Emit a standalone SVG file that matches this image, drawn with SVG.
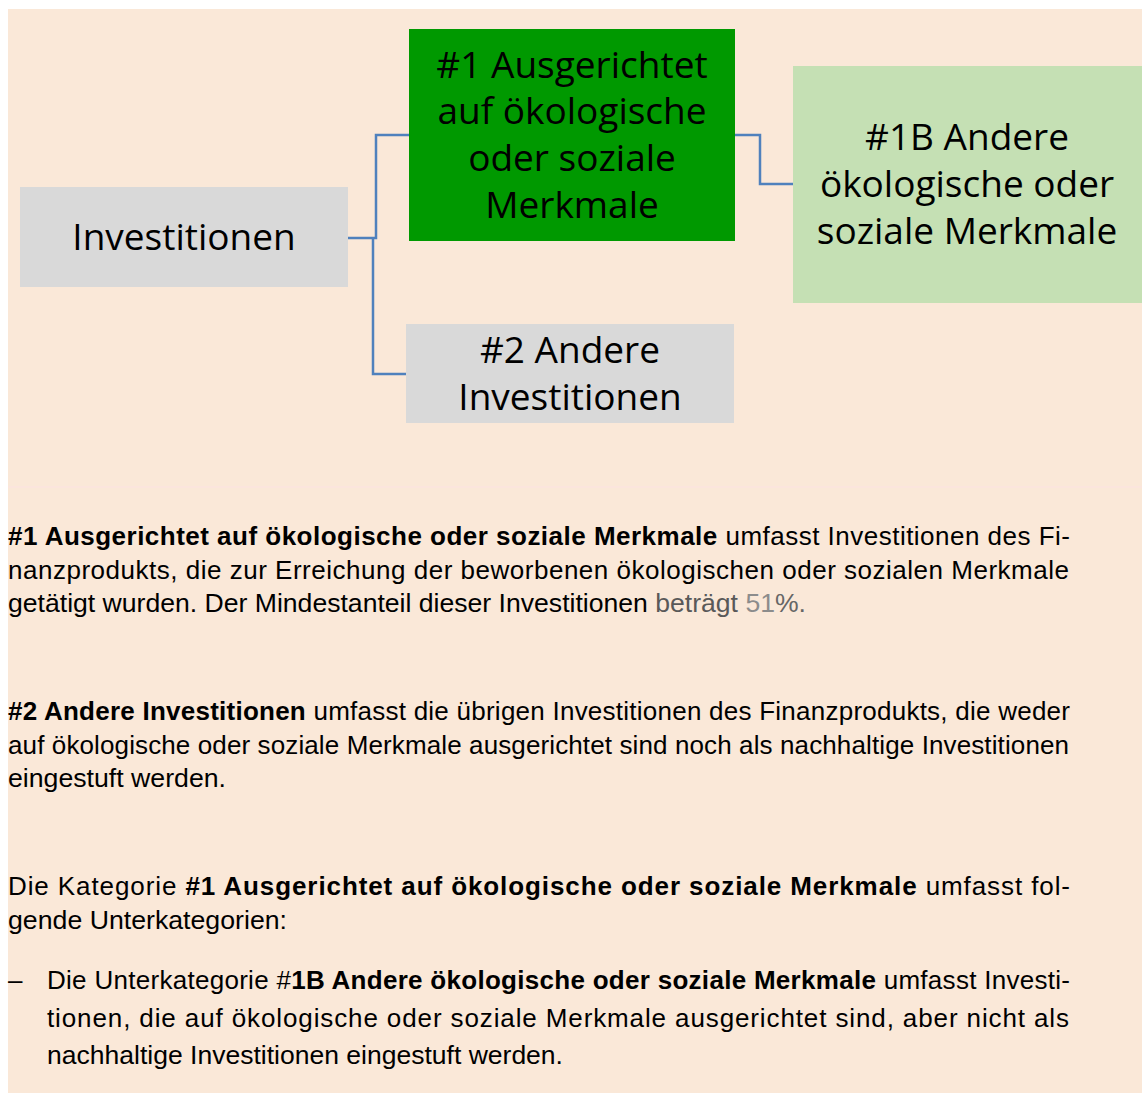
<svg xmlns="http://www.w3.org/2000/svg" width="1147" height="1093" viewBox="0 0 1147 1093">
<style>
.box{font-family:"Open Sans","Noto Sans",sans-serif;font-size:37px;fill:#000;text-anchor:middle}
.p{font-family:"Liberation Sans",Arial,sans-serif;font-size:26px;fill:#000}
.b{font-weight:bold}
.con{fill:none;stroke:#4F81BD;stroke-width:2.5}
</style>
<rect x="0" y="0" width="1147" height="1093" fill="#ffffff"/>
<rect x="8" y="9" width="1134" height="1084" fill="#FAE8D8"/>
<line x1="8" y1="487" x2="1142" y2="487" stroke="#FBE5DF" stroke-width="1.5"/>
<g id="connectors">
<polyline class="con" points="348,238 376,238 376,135 409,135"/>
<polyline class="con" points="373,238 373,374 406,374"/>
<polyline class="con" points="735,135 760,135 760,184 793,184"/>
</g>
<g id="investitionen">
<rect x="20" y="187" width="328" height="100" fill="#D9D9D9"/>
<text class="box" x="184" y="250">Investitionen</text>
</g>
<g id="n1">
<rect x="409" y="29" width="326" height="212" fill="#009900"/>
<text class="box" x="572" y="78">#1 Ausgerichtet</text>
<text class="box" x="572" y="124">auf ökologische</text>
<text class="box" x="572" y="171">oder soziale</text>
<text class="box" x="572" y="218">Merkmale</text>
</g>
<g id="n1b">
<rect x="793" y="66" width="349" height="237" fill="#C5E0B4"/>
<text class="box" x="967" y="150">#1B Andere</text>
<text class="box" x="967" y="197">ökologische oder</text>
<text class="box" x="967" y="244">soziale Merkmale</text>
</g>
<g id="n2">
<rect x="406" y="324" width="328" height="99" fill="#D9D9D9"/>
<text class="box" x="570" y="363">#2 Andere</text>
<text class="box" x="570" y="410">Investitionen</text>
</g>
<g id="text">
<text class="p" x="8" y="545" textLength="1062" lengthAdjust="spacing"><tspan class="b">#1 Ausgerichtet auf ökologische oder soziale Merkmale</tspan> umfasst Investitionen des Fi-</text>
<text class="p" x="8" y="579" textLength="1061" lengthAdjust="spacing">nanzprodukts, die zur Erreichung der beworbenen ökologischen oder sozialen Merkmale</text>
<text class="p" x="8" y="612" textLength="798" lengthAdjust="spacingAndGlyphs">getätigt wurden. Der Mindestanteil dieser Investitionen <tspan fill="#595959">beträgt </tspan><tspan fill="#8C8C8C">51</tspan><tspan fill="#666666">%.</tspan></text>

<text class="p" x="8" y="720" textLength="1062" lengthAdjust="spacing"><tspan class="b">#2 Andere Investitionen</tspan> umfasst die übrigen Investitionen des Finanzprodukts, die weder</text>
<text class="p" x="8" y="754" textLength="1061" lengthAdjust="spacing">auf ökologische oder soziale Merkmale ausgerichtet sind noch als nachhaltige Investitionen</text>
<text class="p" x="8" y="787" textLength="218" lengthAdjust="spacingAndGlyphs">eingestuft werden.</text>

<text class="p" x="8" y="895" textLength="1062" lengthAdjust="spacing">Die Kategorie <tspan class="b">#1 Ausgerichtet auf ökologische oder soziale Merkmale</tspan> umfasst fol-</text>
<text class="p" x="8" y="929" textLength="279" lengthAdjust="spacingAndGlyphs">gende Unterkategorien:</text>

<text class="p" x="8" y="989">–</text>
<text class="p" x="47" y="989" textLength="1023" lengthAdjust="spacing">Die Unterkategorie #<tspan class="b">1B Andere ökologische oder soziale Merkmale</tspan> umfasst Investi-</text>
<text class="p" x="47" y="1027" textLength="1022" lengthAdjust="spacing">tionen, die auf ökologische oder soziale Merkmale ausgerichtet sind, aber nicht als</text>
<text class="p" x="47" y="1064" textLength="516" lengthAdjust="spacingAndGlyphs">nachhaltige Investitionen eingestuft werden.</text>
</g>
</svg>
